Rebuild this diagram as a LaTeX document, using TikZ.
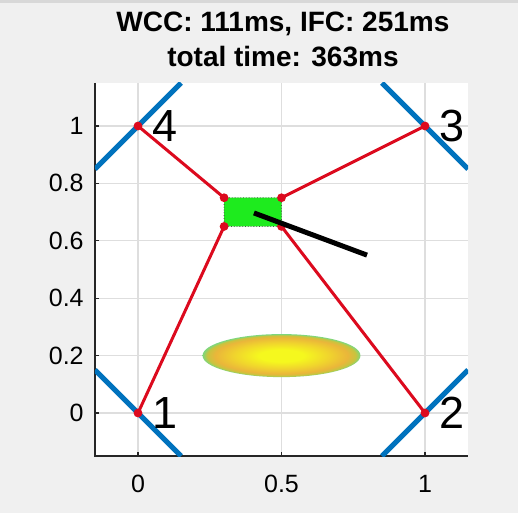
\documentclass[tikz,border=0pt]{standalone}
\usepackage{fontspec}
\setmainfont{Liberation Sans}
\usepackage{xcolor}
\usetikzlibrary{positioning,calc}

\definecolor{figbg}{RGB}{240,240,240}
\definecolor{figedge}{RGB}{216,216,216}
\definecolor{gridgray}{RGB}{222,222,222}
\definecolor{axblue}{RGB}{0,114,189}
\definecolor{cablered}{RGB}{220,10,30}
\definecolor{platgreen}{RGB}{30,235,30}
\definecolor{blobA}{RGB}{245,248,30}
\definecolor{blobB}{RGB}{240,212,45}
\definecolor{blobC}{RGB}{234,182,58}
\definecolor{blobD}{RGB}{200,196,62}
\definecolor{blobE}{RGB}{125,215,125}
\pgfdeclareradialshading{blob}{\pgfpoint{0bp}{0bp}}{%
  color(0bp)=(blobA); color(7bp)=(blobA); color(15bp)=(blobB);
  color(21bp)=(blobC); color(23.5bp)=(blobD); color(25bp)=(blobE); color(50bp)=(blobE)}

\begin{document}
\begin{tikzpicture}[
  x=143.5pt, y=143.5pt,
  cable/.style={cablered, line width=1.5pt},
  winch/.style={axblue, line width=2.6pt},
  axline/.style={black!85, line width=1pt},
  ticklbl/.style={font=\fontsize{12.5}{14}\selectfont, inner sep=0pt},
  cornerlbl/.style={font=\fontsize{22.5}{26}\selectfont, inner sep=0pt, anchor=west},
  ttl/.style={font=\fontsize{14}{16}\selectfont\bfseries, inner sep=0pt, anchor=base}
]
% figure background and axes box
\fill[figbg] (-0.4808,-0.3484) rectangle (1.3240,1.4390);
\useasboundingbox (-0.4808,-0.3484) rectangle (1.3240,1.4390);
\fill[figedge] (-0.4808,1.4285) rectangle (1.3240,1.4390);
\fill[white] (-0.15,-0.15) rectangle (1.15,1.15);

% grid
\foreach \gx in {0,0.5,1}
  \draw[gridgray, line width=0.6pt] (\gx,-0.15) -- (\gx,1.15);
\foreach \gy in {0,0.2,0.4,0.6,0.8,1}
  \draw[gridgray, line width=0.6pt] (-0.15,\gy) -- (1.15,\gy);

% axes, ticks and tick labels
\draw[axline] (-0.15,1.15) -- (-0.15,-0.15) -- (1.15,-0.15);
\foreach \gy [count=\k] in {0,0.2,0.4,0.6,0.8,1} {
  \draw[axline, line width=0.6pt] (-0.15,\gy) -- ++(0.015,0);
  \node[ticklbl, anchor=east] (yt\k) at (-0.188,\gy) {\gy};
}
\foreach \gx [count=\k] in {0,0.5,1} {
  \draw[axline, line width=0.6pt] (\gx,-0.15) -- ++(0,0.015);
  \node[ticklbl, anchor=base] (xt\k) at (\gx,-0.2787) {\gx};
}

% title
\node[ttl] (ttl1) at (0.505,1.3275) {WCC: 111ms, IFC: 251ms};
\node[ttl] (ttl2) at (0.505,1.2056) {total time: 363ms};

% anchors and platform corners
\coordinate (c1) at (0,0);
\coordinate (c2) at (1,0);
\coordinate (c3) at (1,1);
\coordinate (c4) at (0,1);
\coordinate (p1) at (0.3,0.65);
\coordinate (p2) at (0.5,0.65);
\coordinate (p3) at (0.5,0.75);
\coordinate (p4) at (0.3,0.75);
\coordinate (h0) at (0.404,0.697);
\coordinate (h1) at (0.798,0.55);

\begin{scope}
  \clip (-0.15,-0.15) rectangle (1.15,1.15);
  % winches
  \draw[winch] ($(c1)+(-0.15,0.15)$) -- ($(c1)+(0.15,-0.15)$);
  \draw[winch] ($(c2)+(-0.15,-0.15)$) -- ($(c2)+(0.15,0.15)$);
  \draw[winch] ($(c3)+(-0.15,0.15)$) -- ($(c3)+(0.15,-0.15)$);
  \draw[winch] ($(c4)+(-0.15,-0.15)$) -- ($(c4)+(0.15,0.15)$);

  % workspace blob
  \shade[shading=blob] (0.5,0.2) ellipse [x radius=0.275, y radius=0.075];

  % platform and cables
  \filldraw[fill=platgreen, draw=black!70, densely dotted, line width=0.4pt, rounded corners=1pt] (p1) rectangle (p3);
  \draw[cable] (c1) -- (p1);
  \draw[cable] (c2) -- (p2);
  \draw[cable] (c3) -- (p3);
  \draw[cable] (c4) -- (p4);
  \foreach \n in {c1,c2,c3,c4,p1,p2,p3,p4}
    \fill[cablered] (\n) circle (2.2pt);

  % heading
  \draw[black, line width=2.5pt] (h0) -- (h1);
\end{scope}

% anchor labels
\node[cornerlbl] (n1) at ($(c1)+(0.05,0)$) {1};
\node[cornerlbl] (n2) at ($(c2)+(0.05,0)$) {2};
\node[cornerlbl] (n3) at ($(c3)+(0.05,0)$) {3};
\node[cornerlbl] (n4) at ($(c4)+(0.05,0)$) {4};
\end{tikzpicture}
\end{document}
